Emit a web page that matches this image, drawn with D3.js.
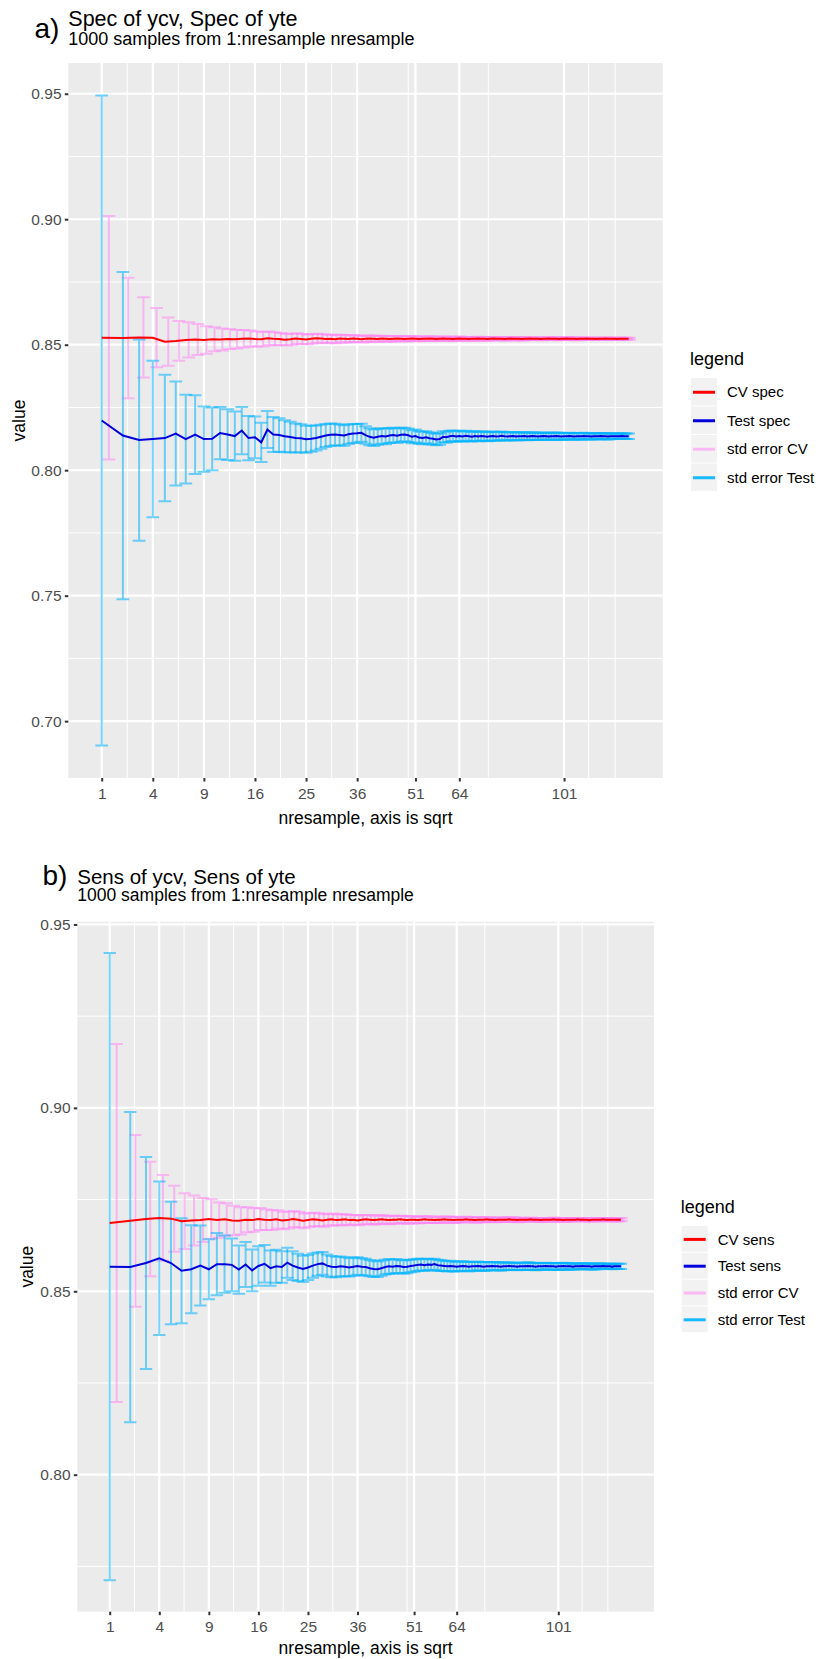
<!DOCTYPE html>
<html>
<head>
<meta charset="utf-8">
<script src="https://cdn.jsdelivr.net/npm/d3@7"></script>
<style>
body { margin: 0; background: #fff; }
text { font-family: "Liberation Sans", Arial, sans-serif; }
</style>
</head>
<body>
<script>
// x categories: number of resamples, drawn on a sqrt axis
var nresample = d3.range(1, 129)
var xBreaks = [1, 4, 9, 16, 25, 36, 51, 64, 101]
var xMinor = [2.25, 6.25, 12.25, 20.25, 30.25, 49, 73.4, 110.9, 122.1]
var ySpecTicks = [0.70, 0.75, 0.80, 0.85, 0.90, 0.95]
var ySensTicks = [0.80, 0.85, 0.90, 0.95]

// a) specificity
var cvSpec = [
.8528,.8527,.8529,.8528,.8512,.8515,.8519,.8521,.8519,.8522,
.8521,.8523,.8522,.8524,.8525,.8523,.8522,.8526,.8524,.8523,
.8520,.8522,.8525,.8523,.8521,.8524,.8526,.8525,.8523,.8524,
.8522,.8525,.8524,.8523,.8525,.8524,.8522,.8524,.8525,.8524,
.8523,.8525,.8524,.8523,.8524,.8525,.8524,.8523,.8524,.8525,
.8524,.8523,.8524,.8524,.8525,.8524,.8523,.8524,.8525,.8524,
.8524,.8523,.8524,.8525,.8524,.8524,.8523,.8524,.8524,.8525,
.8524,.8524,.8523,.8524,.8525,.8524,.8524,.8524,.8523,.8524,
.8525,.8524,.8524,.8524,.8523,.8524,.8524,.8525,.8524,.8524,
.8524,.8523,.8524,.8524,.8525,.8524,.8524,.8524,.8523,.8524,
.8524,.8525,.8524,.8524,.8524,.8523,.8524,.8524,.8524,.8525,
.8524,.8524,.8524,.8523,.8524,.8524,.8524,.8525,.8524,.8524,
.8524,.8524,.8523,.8524,.8524,.8524,.8524,.8524]
var teSpec = [
.8198,.8138,.8120,.8124,.8128,.8146,.8124,.8142,.8124,.8125,
.8148,.8142,.8136,.8158,.8128,.8131,.8111,.8162,.8142,.8140,
.8135,.8132,.8128,.8127,.8123,.8125,.8128,.8133,.8138,.8141,
.8142,.8140,.8138,.8143,.8146,.8147,.8149,.8140,.8133,.8129,
.8133,.8136,.8134,.8138,.8140,.8137,.8141,.8142,.8139,.8133,
.8136,.8130,.8128,.8131,.8127,.8125,.8122,.8124,.8133,.8131,
.8135,.8137,.8134,.8136,.8134,.8137,.8135,.8133,.8136,.8134,
.8136,.8135,.8133,.8135,.8136,.8134,.8135,.8137,.8135,.8134,
.8135,.8136,.8134,.8135,.8135,.8136,.8134,.8135,.8136,.8135,
.8134,.8135,.8136,.8135,.8134,.8135,.8135,.8136,.8135,.8134,
.8135,.8135,.8136,.8135,.8134,.8135,.8135,.8135,.8136,.8135,
.8135,.8134,.8135,.8135,.8135,.8136,.8135,.8135,.8134,.8135,
.8135,.8135,.8135,.8135,.8136,.8135,.8135,.8135]
var cvSpecSe = [
.0485,.0240,.0160,.0118,.0096,.0079,.0070,.0062,.0055,.0048,
.0044,.0040,.0037,.0035,.0032,.0030,.0029,.0027,.0026,.0024,
.0023,.0022,.0021,.0020,.0019,.0019,.0018,.0017,.0017,.0016,
.0016,.0015,.0015,.0014,.0014,.0013,.0013,.0013,.0012,.0012,
.0012,.0011,.0011,.0011,.0011,.0010,.0010,.0010,.0010,.0010,
.0009,.0009,.0009,.0009,.0009,.0009,.0008,.0008,.0008,.0008,
.0008,.0008,.0008,.0008,.0007,.0007,.0007,.0007,.0007,.0007,
.0007,.0007,.0007,.0006,.0006,.0006,.0006,.0006,.0006,.0006,
.0006,.0006,.0006,.0006,.0006,.0006,.0005,.0005,.0005,.0005,
.0005,.0005,.0005,.0005,.0005,.0005,.0005,.0005,.0005,.0005,
.0005,.0005,.0005,.0005,.0005,.0005,.0004,.0004,.0004,.0004,
.0004,.0004,.0004,.0004,.0004,.0004,.0004,.0004,.0004,.0004,
.0004,.0004,.0004,.0004,.0004,.0004,.0004,.0004]
var teSpecSe = [
.1295,.0652,.0401,.0312,.0252,.0207,.0177,.0157,.0130,.0125,
.0104,.0101,.0098,.0094,.0088,.0083,.0078,.0074,.0070,.0067,
.0064,.0061,.0058,.0056,.0054,.0052,.0050,.0048,.0046,.0045,
.0043,.0042,.0041,.0039,.0038,.0037,.0036,.0035,.0034,.0033,
.0032,.0031,.0031,.0030,.0029,.0029,.0028,.0027,.0027,.0026,
.0026,.0025,.0025,.0024,.0024,.0023,.0023,.0023,.0022,.0022,
.0022,.0021,.0021,.0021,.0020,.0020,.0020,.0019,.0019,.0019,
.0019,.0018,.0018,.0018,.0018,.0017,.0017,.0017,.0017,.0016,
.0016,.0016,.0016,.0016,.0015,.0015,.0015,.0015,.0015,.0015,
.0014,.0014,.0014,.0014,.0014,.0014,.0014,.0014,.0014,.0014,
.0013,.0013,.0013,.0013,.0013,.0013,.0013,.0013,.0013,.0013,
.0012,.0012,.0012,.0012,.0012,.0012,.0012,.0012,.0012,.0012,
.0011,.0011,.0011,.0011,.0011,.0011,.0011,.0011]

// b) sensitivity
var cvSens = [
.8686,.8692,.8697,.8700,.8698,.8691,.8693,.8694,.8697,.8694,
.8696,.8693,.8692,.8695,.8694,.8697,.8695,.8694,.8696,.8693,
.8694,.8697,.8695,.8692,.8694,.8696,.8695,.8693,.8695,.8696,
.8694,.8695,.8696,.8694,.8695,.8693,.8695,.8696,.8695,.8694,
.8695,.8696,.8695,.8694,.8695,.8695,.8696,.8695,.8694,.8695,
.8695,.8694,.8695,.8696,.8695,.8695,.8694,.8695,.8695,.8696,
.8695,.8695,.8694,.8695,.8695,.8695,.8696,.8695,.8695,.8694,
.8695,.8695,.8695,.8696,.8695,.8695,.8694,.8695,.8695,.8695,
.8695,.8696,.8695,.8695,.8694,.8695,.8695,.8695,.8695,.8696,
.8695,.8695,.8695,.8694,.8695,.8695,.8695,.8695,.8696,.8695,
.8695,.8695,.8694,.8695,.8695,.8695,.8695,.8695,.8696,.8695,
.8695,.8695,.8695,.8694,.8695,.8695,.8695,.8695,.8695,.8696,
.8695,.8695,.8695,.8695,.8695,.8695,.8695,.8695]
var teSens = [
.8567,.8566,.8577,.8590,.8577,.8556,.8560,.8570,.8560,.8574,
.8574,.8572,.8559,.8573,.8557,.8569,.8575,.8563,.8568,.8566,
.8578,.8570,.8565,.8561,.8565,.8570,.8574,.8576,.8570,.8567,
.8566,.8568,.8567,.8565,.8567,.8569,.8567,.8566,.8563,.8561,
.8560,.8563,.8566,.8568,.8567,.8569,.8568,.8566,.8567,.8569,
.8570,.8572,.8573,.8571,.8573,.8572,.8574,.8571,.8570,.8569,
.8568,.8569,.8568,.8567,.8568,.8569,.8568,.8567,.8568,.8568,
.8569,.8568,.8567,.8568,.8568,.8569,.8568,.8568,.8567,.8568,
.8568,.8569,.8568,.8568,.8567,.8568,.8568,.8568,.8569,.8568,
.8568,.8567,.8568,.8568,.8568,.8569,.8568,.8568,.8568,.8567,
.8568,.8568,.8569,.8568,.8568,.8568,.8567,.8568,.8568,.8568,
.8569,.8568,.8568,.8568,.8567,.8568,.8568,.8568,.8568,.8569,
.8568,.8568,.8568,.8567,.8568,.8568,.8568,.8568]
var cvSensSe = [
.0488,.0234,.0156,.0117,.0090,.0076,.0068,.0060,.0054,.0048,
.0044,.0040,.0037,.0034,.0032,.0030,.0028,.0027,.0025,.0024,
.0023,.0022,.0021,.0020,.0019,.0018,.0018,.0017,.0016,.0016,
.0015,.0015,.0014,.0014,.0013,.0013,.0013,.0012,.0012,.0012,
.0012,.0011,.0011,.0011,.0011,.0010,.0010,.0010,.0010,.0010,
.0009,.0009,.0009,.0009,.0009,.0009,.0008,.0008,.0008,.0008,
.0008,.0008,.0008,.0008,.0007,.0007,.0007,.0007,.0007,.0007,
.0007,.0007,.0007,.0006,.0006,.0006,.0006,.0006,.0006,.0006,
.0006,.0006,.0006,.0006,.0006,.0006,.0005,.0005,.0005,.0005,
.0005,.0005,.0005,.0005,.0005,.0005,.0005,.0005,.0005,.0005,
.0005,.0005,.0005,.0005,.0005,.0005,.0004,.0004,.0004,.0004,
.0004,.0004,.0004,.0004,.0004,.0004,.0004,.0004,.0004,.0004,
.0004,.0004,.0004,.0004,.0004,.0004,.0004,.0004]
var teSensSe = [
.0855,.0423,.0289,.0209,.0167,.0143,.0120,.0109,.0082,.0085,
.0078,.0072,.0066,.0061,.0057,.0054,.0051,.0048,.0045,.0043,
.0041,.0039,.0037,.0036,.0034,.0033,.0032,.0031,.0030,.0029,
.0028,.0027,.0026,.0025,.0025,.0024,.0023,.0023,.0022,.0022,
.0021,.0021,.0020,.0020,.0019,.0019,.0018,.0018,.0018,.0017,
.0017,.0017,.0016,.0016,.0016,.0015,.0015,.0015,.0015,.0014,
.0014,.0014,.0014,.0013,.0013,.0013,.0013,.0013,.0012,.0012,
.0012,.0012,.0012,.0012,.0011,.0011,.0011,.0011,.0011,.0011,
.0010,.0010,.0010,.0010,.0010,.0010,.0010,.0010,.0010,.0010,
.0010,.0010,.0009,.0009,.0009,.0009,.0009,.0009,.0009,.0009,
.0009,.0009,.0009,.0009,.0009,.0008,.0008,.0008,.0008,.0008,
.0008,.0008,.0008,.0008,.0008,.0008,.0008,.0008,.0007,.0007,
.0007,.0007,.0007,.0007,.0007,.0007,.0007,.0007]

var cvDodge = 0.3   // CV error bars sit slightly right of their point
var capW = 0.25     // error bar width, in sqrt units

var svg = d3.select("body").append("svg")
    .attr("width", 818)
    .attr("height", 1659)

function drawPanel(p){
    var g = svg.append("g")

    // x: sqrt scale, expanded 5% like ggplot
    var s0 = Math.sqrt(d3.min(nresample)) - capW/2
    var s1 = Math.sqrt(d3.max(nresample) + cvDodge) + capW/2
    var pad = (s1 - s0) * 0.05
    var x = d3.scaleSqrt()
        .domain([Math.pow(s0 - pad, 2), Math.pow(s1 + pad, 2)])
        .range([p.left, p.right])
    var capPx = capW/2 * (p.right - p.left) / (s1 - s0 + 2*pad)

    // y: extent of the error bars, expanded 5%
    var lo = d3.min(nresample, function(d, i){ return Math.min(p.cv[i] - p.cvSe[i], p.te[i] - p.teSe[i]) })
    var hi = d3.max(nresample, function(d, i){ return Math.max(p.cv[i] + p.cvSe[i], p.te[i] + p.teSe[i]) })
    var ypad = (hi - lo) * 0.05
    var y = d3.scaleLinear()
        .domain([lo - ypad, hi + ypad])
        .range([p.bottom, p.top])

    g.append("rect")
        .attr("x", p.left).attr("y", p.top)
        .attr("width", p.right - p.left).attr("height", p.bottom - p.top)
        .attr("fill", "#EBEBEB")

    var yMinor = d3.range(p.yTicks.length + 1).map(function(i){
        return i == 0 ? p.yTicks[0] - 0.025 : p.yTicks[i-1] + 0.025
    }).filter(function(v){ return v > y.domain()[0] && v < y.domain()[1] })

    g.selectAll(".ymin").data(yMinor).enter().append("line")
        .attr("x1", p.left).attr("x2", p.right)
        .attr("y1", function(d){ return y(d) }).attr("y2", function(d){ return y(d) })
        .attr("stroke", "#fff").attr("stroke-width", 1)
    g.selectAll(".xmin").data(xMinor).enter().append("line")
        .attr("y1", p.top).attr("y2", p.bottom)
        .attr("x1", function(d){ return x(d) }).attr("x2", function(d){ return x(d) })
        .attr("stroke", "#fff").attr("stroke-width", 1)
    g.selectAll(".ymaj").data(p.yTicks).enter().append("line")
        .attr("x1", p.left).attr("x2", p.right)
        .attr("y1", function(d){ return y(d) }).attr("y2", function(d){ return y(d) })
        .attr("stroke", "#fff").attr("stroke-width", 2.2)
    g.selectAll(".xmaj").data(xBreaks).enter().append("line")
        .attr("y1", p.top).attr("y2", p.bottom)
        .attr("x1", function(d){ return x(d) }).attr("x2", function(d){ return x(d) })
        .attr("stroke", "#fff").attr("stroke-width", 2.2)

    function errPath(cx, m, se){
        var a = x(cx), t = y(m + se), b = y(m - se)
        return "M" + (a - capPx) + "," + t + "H" + (a + capPx) + "M" + a + "," + t + "V" + b +
               "M" + (a - capPx) + "," + b + "H" + (a + capPx)
    }

    g.selectAll(".cvbar").data(nresample).enter().append("path")
        .attr("d", function(d, i){ return errPath(d + cvDodge, p.cv[i], p.cvSe[i]) })
        .attr("fill", "none").attr("stroke", "#FF82F5").attr("stroke-opacity", 0.5).attr("stroke-width", 2)
    g.selectAll(".tebar").data(nresample).enter().append("path")
        .attr("d", function(d, i){ return errPath(d, p.te[i], p.teSe[i]) })
        .attr("fill", "none").attr("stroke", "#00B2FF").attr("stroke-opacity", 0.55).attr("stroke-width", 2)

    var line = function(vals){
        return d3.line().x(function(d){ return x(d) }).y(function(d, i){ return y(vals[i]) })(nresample)
    }
    g.append("path").attr("d", line(p.cv)).attr("fill", "none").attr("stroke", "#FF0000").attr("stroke-width", 2)
    g.append("path").attr("d", line(p.te)).attr("fill", "none").attr("stroke", "#0000DD").attr("stroke-width", 2)

    // axes
    var yAxis = d3.axisLeft(y).tickValues(p.yTicks).tickFormat(d3.format(".2f")).tickSize(3.5).tickPadding(3.3)
    var ya = g.append("g").attr("transform", "translate(" + p.left + ",0)").call(yAxis)
    var xAxis = d3.axisBottom(x).tickValues(xBreaks).tickFormat(d3.format("d")).tickSize(3.5).tickPadding(6)
    var xa = g.append("g").attr("transform", "translate(0," + p.bottom + ")").call(xAxis)
    ;[ya, xa].forEach(function(a){
        a.select(".domain").remove()
        a.selectAll(".tick line").attr("stroke", "#333").attr("stroke-width", 2)
        a.selectAll(".tick text").attr("fill", "#4D4D4D").attr("font-size", 15.5)
            .attr("font-family", "Liberation Sans, Arial, sans-serif")
    })

    g.append("text").text("nresample, axis is sqrt")
        .attr("x", (p.left + p.right)/2).attr("y", p.bottom + p.xlabDy)
        .attr("text-anchor", "middle").attr("font-size", 17.5)
    g.append("text").text("value")
        .attr("transform", "translate(" + p.ylabX + "," + (p.top + p.bottom)/2 + ") rotate(-90)")
        .attr("text-anchor", "middle").attr("font-size", 17.5)

    // titles
    g.append("text").text(p.letter)
        .attr("x", p.letterX).attr("y", p.letterY)
        .attr("font-family", "Liberation Serif, Times New Roman, serif").attr("font-size", 28)
    g.append("text").text(p.title)
        .attr("x", p.left).attr("y", p.titleY).attr("font-size", p.titleSize)
    g.append("text").text("1000 samples from 1:nresample nresample")
        .attr("x", p.left).attr("y", p.subY).attr("font-size", p.subSize)

    // legend
    var keys = [
        {label: p.keys[0], color: "#FF0000", op: 1},
        {label: p.keys[1], color: "#0000DD", op: 1},
        {label: "std error CV", color: "#FF82F5", op: 0.5},
        {label: "std error Test", color: "#00B2FF", op: 0.9}
    ]
    var lg = g.append("g").attr("transform", "translate(" + p.legX + "," + p.legY + ")")
    lg.append("text").text("legend").attr("x", -1).attr("y", -13).attr("font-size", 18)
    var row = lg.selectAll(".key").data(keys).enter().append("g")
        .attr("transform", function(d, i){ return "translate(0," + i * p.keyH + ")" })
    row.append("rect").attr("width", 26).attr("height", p.keyH - 1).attr("fill", "#F2F2F2")
    row.append("line").attr("x1", 2).attr("x2", 24)
        .attr("y1", p.keyH/2).attr("y2", p.keyH/2)
        .attr("stroke", function(d){ return d.color }).attr("stroke-opacity", function(d){ return d.op })
        .attr("stroke-width", 3)
    row.append("text").text(function(d){ return d.label })
        .attr("x", 36).attr("y", p.keyH/2 + 5.2).attr("font-size", 15)
}

drawPanel({
    left: 68.3, right: 662.7, top: 63, bottom: 778,
    cv: cvSpec, te: teSpec, cvSe: cvSpecSe, teSe: teSpecSe, yTicks: ySpecTicks,
    letter: "a)", letterX: 34.5, letterY: 38, title: "Spec of ycv, Spec of yte",
    titleY: 26, titleSize: 21.5, subY: 44.5, subSize: 18,
    ylabX: 25, xlabDy: 46,
    keys: ["CV spec", "Test spec"], legX: 691, legY: 378, keyH: 28.5
})
drawPanel({
    left: 77.3, right: 654, top: 921.7, bottom: 1611.7,
    cv: cvSens, te: teSens, cvSe: cvSensSe, teSe: teSensSe, yTicks: ySensTicks,
    letter: "b)", letterX: 42.5, letterY: 885, title: "Sens of ycv, Sens of yte",
    titleY: 883.5, titleSize: 20.5, subY: 900.5, subSize: 17.5,
    ylabX: 33, xlabDy: 42.3,
    keys: ["CV sens", "Test sens"], legX: 681.7, legY: 1226, keyH: 26.8
})
</script>
</body>
</html>
